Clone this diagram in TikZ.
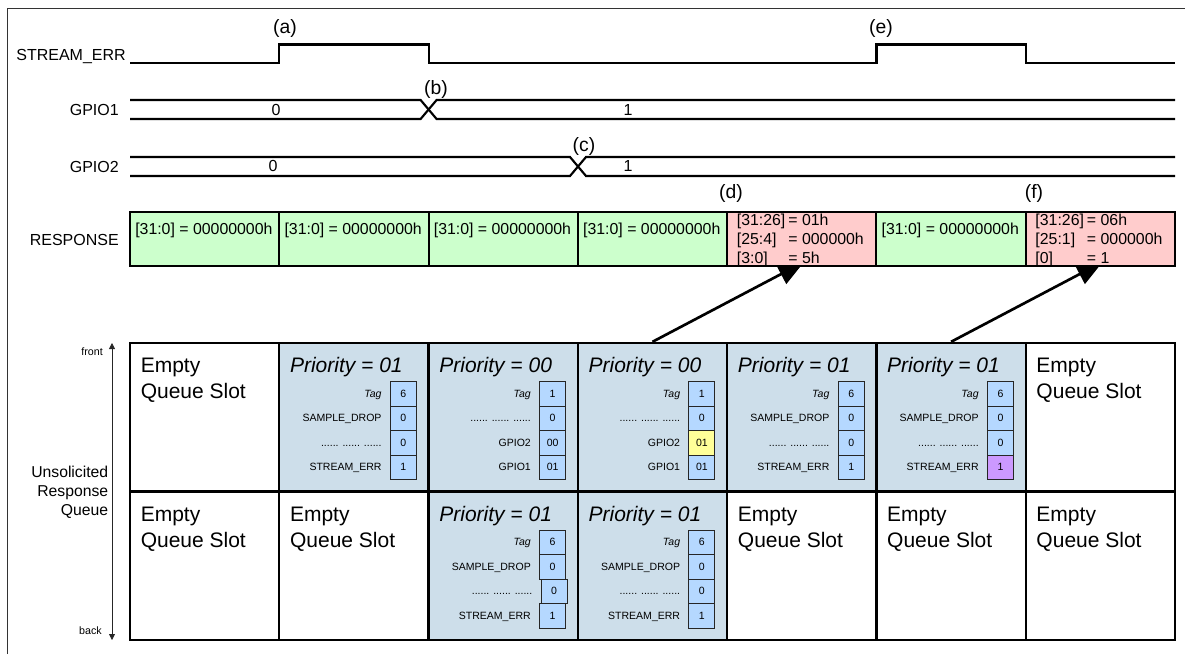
\documentclass[tikz,border=0pt]{standalone}
\usepackage{fontspec}
\setmainfont{Liberation Sans}
\usetikzlibrary{arrows.meta,calc}
\definecolor{rgreen}{RGB}{204,255,204}
\definecolor{rpink}{RGB}{255,204,204}
\definecolor{qblue}{RGB}{205,222,234}
\definecolor{fblue}{RGB}{181,216,255}
\definecolor{fyellow}{RGB}{255,255,153}
\definecolor{fpurple}{RGB}{204,153,255}
\newcommand{\qbigfont}{\fontsize{15.75}{19}\selectfont}
\newcommand{\QField}[7]{%
  \node[fbox, fill=#7, anchor=north east] (#1v#4) at ({#2+137.5},{#3+38+24.5*#4}) {#6};
  \node[flab, anchor=base east] (#1t#4) at ({#2+102.5},{#3+54.1+24.5*#4}) {#5};
}
\newcommand{\QTitle}[4]{%
  \node[big, font=\qbigfont\itshape, anchor=base west] (#1p) at ({#2+10.5},{#3+29.5}) {Priority = #4};
}
\newcommand{\QEmpty}[3]{%
  \node[big, anchor=base west] (#1e) at ({#2+10.5},{#3+29.5}) {Empty};
  \node[big, anchor=base west] (#1s) at ({#2+10.5},{#3+55.5}) {Queue Slot};
}
\begin{document}
\begin{tikzpicture}[x=0.75pt,y=-0.75pt,
  wave/.style={line width=1.6pt},
  lbl/.style={inner sep=0pt, font=\fontsize{12}{14}\selectfont},
  mark label/.style={inner sep=0pt, font=\fontsize{14.5}{16}\selectfont},
  rtxt/.style={inner sep=0pt, font=\fontsize{11.9}{14}\selectfont},
  resp/.style={draw, line width=1.5pt, inner sep=0pt, minimum width=111.96pt, minimum height=40.5pt},
  qcell/.style={draw, line width=1.8pt, inner sep=0pt, minimum width=111.96pt, minimum height=111.375pt},
  big/.style={inner sep=0pt, font=\qbigfont},
  fbox/.style={draw=black!85, line width=0.7pt, inner sep=0pt, minimum width=19.5pt, minimum height=18.375pt, font=\fontsize{7.9}{9}\selectfont},
  flab/.style={inner sep=0pt, font=\fontsize{7.9}{9}\selectfont},
  bigarrow/.style={line width=2pt, -{Triangle[length=19.5pt,width=16.5pt]}},
]
\useasboundingbox (0,0) rectangle (1185,654);
% frame
\draw[line width=0.9pt, black!80] (7.5,654) -- (7.5,8.5) -- (1185,8.5);

% waveforms
\node[lbl, anchor=base east] (lse) at (126,60) {STREAM\_ERR};
\node[lbl, anchor=base east] (lg1) at (119,115.5) {GPIO1};
\node[lbl, anchor=base east] (lg2) at (119,172.5) {GPIO2};
\node[lbl, anchor=base east] (lrs) at (119,245.5) {RESPONSE};

\draw[wave] (130,63) -- (279.29,63) -- (279.29,44.5) -- (428.57,44.5) -- (428.57,63) -- (876.43,63) -- (876.43,44.5) -- (1025.71,44.5) -- (1025.71,63) -- (1175,63);
\draw[wave] (130,100) -- (420.6,100) -- (436.6,119) -- (1175,119);
\draw[wave] (130,119) -- (420.6,119) -- (436.6,100) -- (1175,100);
\draw[wave] (130,157) -- (570,157) -- (586,176) -- (1175,176);
\draw[wave] (130,176) -- (570,176) -- (586,157) -- (1175,157);

\node[lbl, anchor=base] (g1a) at (276,115.5) {0};
\node[lbl, anchor=base] (g1b) at (628,115.5) {1};
\node[lbl, anchor=base] (g2a) at (273,171.5) {0};
\node[lbl, anchor=base] (g2b) at (628,171.5) {1};

\node[mark label] (la) at (285,28) {(a)};
\node[mark label] (lb) at (436,89) {(b)};
\node[mark label] (lc) at (584,146) {(c)};
\node[mark label] (ld) at (731,193) {(d)};
\node[mark label] (le) at (881,28) {(e)};
\node[mark label] (lf) at (1034,193) {(f)};

% queue cells
\node[qcell] (q11) at (204.64,417.25) {};
\node[qcell, fill=qblue] (q12) at (353.93,417.25) {};
\node[qcell, fill=qblue] (q13) at (503.21,417.25) {};
\node[qcell, fill=qblue] (q14) at (652.5,417.25) {};
\node[qcell, fill=qblue] (q15) at (801.79,417.25) {};
\node[qcell, fill=qblue] (q16) at (951.07,417.25) {};
\node[qcell] (q17) at (1100.36,417.25) {};
\node[qcell] (q21) at (204.64,565.75) {};
\node[qcell] (q22) at (353.93,565.75) {};
\node[qcell, fill=qblue] (q23) at (503.21,565.75) {};
\node[qcell, fill=qblue] (q24) at (652.5,565.75) {};
\node[qcell] (q25) at (801.79,565.75) {};
\node[qcell] (q26) at (951.07,565.75) {};
\node[qcell] (q27) at (1100.36,565.75) {};

\QEmpty{q11}{130}{343}
\QEmpty{q17}{1025.71}{343}
\QEmpty{q21}{130}{491.5}
\QEmpty{q22}{279.29}{491.5}
\QEmpty{q25}{727.14}{491.5}
\QEmpty{q26}{876.43}{491.5}
\QEmpty{q27}{1025.71}{491.5}

\QTitle{q12}{279.29}{343}{01}
\QField{q12}{279.29}{343}{0}{\textit{Tag}}{6}{fblue}
\QField{q12}{279.29}{343}{1}{SAMPLE\_DROP}{0}{fblue}
\QField{q12}{279.29}{343}{2}{...... ...... ......}{0}{fblue}
\QField{q12}{279.29}{343}{3}{STREAM\_ERR}{1}{fblue}

\QTitle{q13}{428.57}{343}{00}
\QField{q13}{428.57}{343}{0}{\textit{Tag}}{1}{fblue}
\QField{q13}{428.57}{343}{1}{...... ...... ......}{0}{fblue}
\QField{q13}{428.57}{343}{2}{GPIO2}{00}{fblue}
\QField{q13}{428.57}{343}{3}{GPIO1}{01}{fblue}

\QTitle{q14}{577.86}{343}{00}
\QField{q14}{577.86}{343}{0}{\textit{Tag}}{1}{fblue}
\QField{q14}{577.86}{343}{1}{...... ...... ......}{0}{fblue}
\QField{q14}{577.86}{343}{2}{GPIO2}{01}{fyellow}
\QField{q14}{577.86}{343}{3}{GPIO1}{01}{fblue}

\QTitle{q15}{727.14}{343}{01}
\QField{q15}{727.14}{343}{0}{\textit{Tag}}{6}{fblue}
\QField{q15}{727.14}{343}{1}{SAMPLE\_DROP}{0}{fblue}
\QField{q15}{727.14}{343}{2}{...... ...... ......}{0}{fblue}
\QField{q15}{727.14}{343}{3}{STREAM\_ERR}{1}{fblue}

\QTitle{q16}{876.43}{343}{01}
\QField{q16}{876.43}{343}{0}{\textit{Tag}}{6}{fblue}
\QField{q16}{876.43}{343}{1}{SAMPLE\_DROP}{0}{fblue}
\QField{q16}{876.43}{343}{2}{...... ...... ......}{0}{fblue}
\QField{q16}{876.43}{343}{3}{STREAM\_ERR}{1}{fpurple}

\QTitle{q23}{428.57}{491.5}{01}
\QField{q23}{428.57}{491.5}{0}{\textit{Tag}}{6}{fblue}
\QField{q23}{428.57}{491.5}{1}{SAMPLE\_DROP}{0}{fblue}
\QField{q23}{430.07}{491.5}{2}{...... ...... ......}{0}{fblue}
\QField{q23}{428.57}{491.5}{3}{STREAM\_ERR}{1}{fblue}

\QTitle{q24}{577.86}{491.5}{01}
\QField{q24}{577.86}{491.5}{0}{\textit{Tag}}{6}{fblue}
\QField{q24}{577.86}{491.5}{1}{SAMPLE\_DROP}{0}{fblue}
\QField{q24}{577.86}{491.5}{2}{...... ...... ......}{0}{fblue}
\QField{q24}{577.86}{491.5}{3}{STREAM\_ERR}{1}{fblue}

% queue side labels
\coordinate (qfront) at (112,343);
\coordinate (qback) at (112,640);
\draw[line width=0.6pt, black!85, {Triangle[length=4.5pt,width=4.5pt]}-{Triangle[length=4.5pt,width=4.5pt]}] (qfront) -- (qback);
\node[inner sep=0pt, font=\fontsize{8}{9}\selectfont, anchor=base east] (lfront) at (103,355) {front};
\node[inner sep=0pt, font=\fontsize{8}{9}\selectfont, anchor=base east] (lback) at (102,634) {back};
\node[inner sep=0pt, font=\fontsize{11.8}{14.25}\selectfont, align=right, anchor=east] (lurq) at (108.5,492) {Unsolicited\\Response\\Queue};

% arrows from queue to response
\coordinate (tipd) at (804,262);
\coordinate (tipf) at (1102.6,262);
\draw[bigarrow] (q14.north) -- (tipd);
\draw[bigarrow] (q16.north) -- (tipf);

% response cells
\node[resp, fill=rgreen] (r1) at (204.64,239) {};
\node[resp, fill=rgreen] (r2) at (353.93,239) {};
\node[resp, fill=rgreen] (r3) at (503.21,239) {};
\node[resp, fill=rgreen] (r4) at (652.5,239) {};
\node[resp, fill=rpink] (r5) at (801.79,239) {};
\node[resp, fill=rgreen] (r6) at (951.07,239) {};
\node[resp, fill=rpink] (r7) at (1100.36,239) {};

\node[rtxt, anchor=base west] (r1t) at (135,234.7) {[31:0] = 00000000h};
\node[rtxt, anchor=base west] (r2t) at (284.3,234.7) {[31:0] = 00000000h};
\node[rtxt, anchor=base west] (r3t) at (433.6,234.7) {[31:0] = 00000000h};
\node[rtxt, anchor=base west] (r4t) at (582.9,234.7) {[31:0] = 00000000h};
\node[rtxt, anchor=base west] (r6t) at (881.4,234.7) {[31:0] = 00000000h};

\node[rtxt, anchor=base west] (r5a) at (736.6,225.7) {[31:26]};
\node[rtxt, anchor=base west] (r5b) at (736.6,244.4) {[25:4]};
\node[rtxt, anchor=base west] (r5c) at (736.6,263.1) {[3:0]};
\node[rtxt, anchor=base west] (r5d) at (788.1,225.7) {= 01h};
\node[rtxt, anchor=base west] (r5e) at (788.1,244.4) {= 000000h};
\node[rtxt, anchor=base west] (r5f) at (788.1,263.1) {= 5h};

\node[rtxt, anchor=base west] (r7a) at (1035.2,225.7) {[31:26]};
\node[rtxt, anchor=base west] (r7b) at (1035.2,244.4) {[25:1]};
\node[rtxt, anchor=base west] (r7c) at (1035.2,263.1) {[0]};
\node[rtxt, anchor=base west] (r7d) at (1086.7,225.7) {= 06h};
\node[rtxt, anchor=base west] (r7e) at (1086.7,244.4) {= 000000h};
\node[rtxt, anchor=base west] (r7f) at (1086.7,263.1) {= 1};
\end{tikzpicture}
\end{document}
